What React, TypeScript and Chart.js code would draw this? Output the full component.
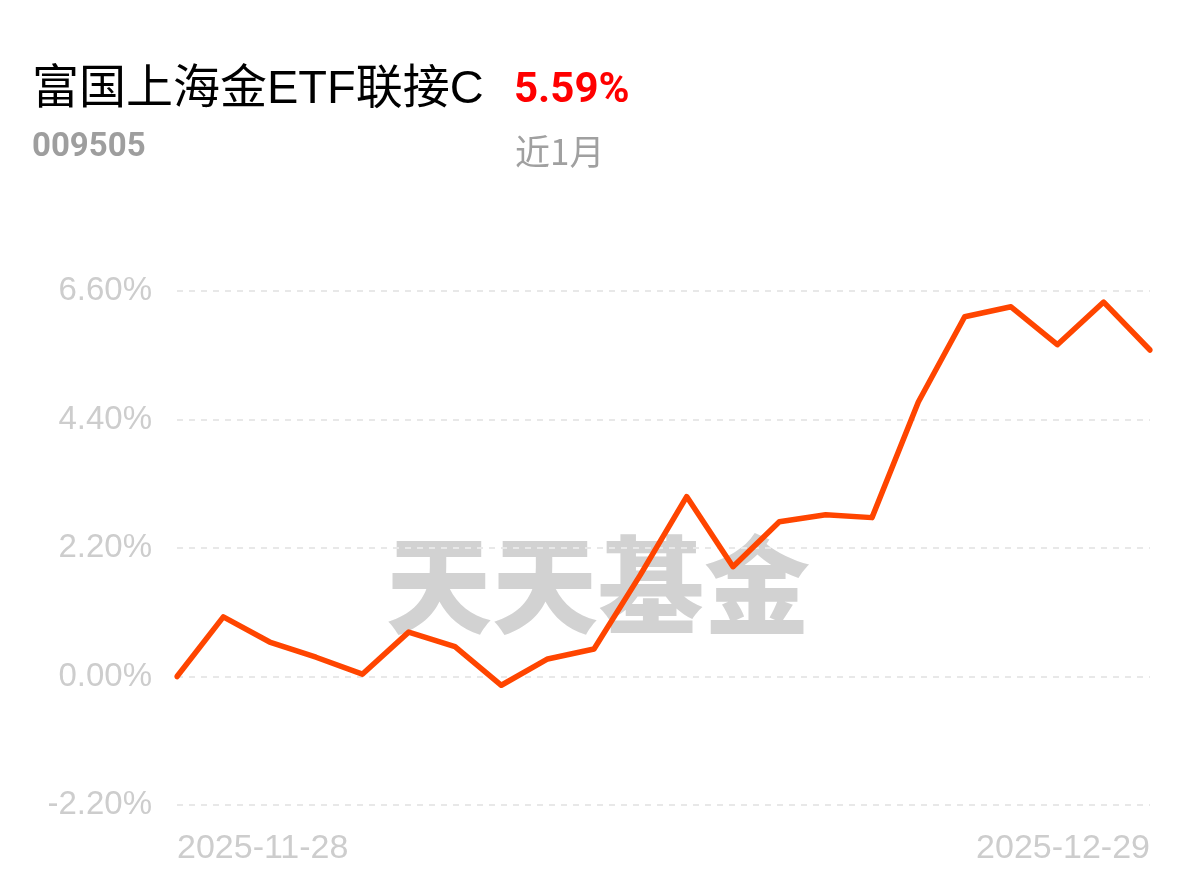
import React, { useEffect, useRef } from "react";
import { Chart, registerables } from "chart.js";

Chart.register(...registerables);

const title = "富国上海金ETF联接C";
const code = "009505";
const changeText = "5.59%";
const periodText = "近1月";
const watermark = "天天基金";

const dates = [
  "2025-11-28", "2025-12-01", "2025-12-02", "2025-12-03", "2025-12-04", "2025-12-05",
  "2025-12-08", "2025-12-09", "2025-12-10", "2025-12-11", "2025-12-12",
  "2025-12-15", "2025-12-16", "2025-12-17", "2025-12-18", "2025-12-19",
  "2025-12-22", "2025-12-23", "2025-12-24", "2025-12-25", "2025-12-26",
  "2025-12-29",
];
const returns = [
  0.0, 1.02, 0.59, 0.33, 0.04, 0.76, 0.51, -0.15, 0.3, 0.47, 1.74,
  3.08, 1.88, 2.65, 2.77, 2.72, 4.7, 6.16, 6.33, 5.68, 6.41, 5.59,
];
const yTicks = [-2.2, 0, 2.2, 4.4, 6.6];

const yTickFont = { family: "'Liberation Sans', Arial, sans-serif", size: 33 };
const xTickFont = { family: "'Liberation Sans', Arial, sans-serif", size: 34 };
const tickColor = "#cdcdcd";

export default function App() {
  const ref = useRef<HTMLCanvasElement | null>(null);

  useEffect(() => {
    if (!ref.current) return;
    const watermarkPlugin = {
      id: "watermark",
      beforeDraw(chart: any) {
        const ctx = chart.ctx;
        ctx.save();
        ctx.font = "900 106px 'Noto Sans CJK SC'";
        ctx.fillStyle = "#d2d2d2";
        ctx.textAlign = "center";
        ctx.textBaseline = "middle";
        ctx.fillText(watermark, 598, 585);
        ctx.restore();
      },
    };
    const chart = new Chart(ref.current, {
      type: "line",
      data: {
        labels: dates,
        datasets: [
          {
            data: returns,
            borderColor: "#ff4500",
            borderWidth: 5.5,
            pointRadius: 0,
            tension: 0,
            fill: false,
            borderJoinStyle: "round",
            borderCapStyle: "round",
          },
        ],
      },
      options: {
        animation: false,
        responsive: false,
        maintainAspectRatio: false,
        events: [],
        layout: { padding: { left: 0, right: 44, top: 291, bottom: 0 } },
        plugins: { legend: { display: false }, tooltip: { enabled: false } },
        scales: {
          x: {
            grid: { display: false, drawTicks: false },
            border: { display: false },
            afterFit(scale: any) {
              scale.height = 76;
            },
            ticks: {
              autoSkip: false,
              maxRotation: 0,
              minRotation: 0,
              align: "inner",
              padding: 23,
              color: tickColor,
              font: xTickFont,
              callback(_v: any, i: number) {
                return i === 0 || i === dates.length - 1 ? dates[i] : "";
              },
            },
          },
          y: {
            min: yTicks[0],
            max: yTicks[yTicks.length - 1],
            afterBuildTicks(scale: any) {
              scale.ticks = yTicks.map((v) => ({ value: v }));
            },
            afterFit(scale: any) {
              scale.width = 177;
            },
            grid: {
              drawTicks: false,
              color: "#e8e8e8",
              lineWidth: 2,
            },
            border: { display: false, dash: [6, 6] },
            ticks: {
              padding: 25,
              color: tickColor,
              font: yTickFont,
              callback(v: any) {
                return Number(v).toFixed(2) + "%";
              },
            },
          },
        },
      },
      plugins: [watermarkPlugin],
    } as any);
    return () => chart.destroy();
  }, []);

  return (
    <div
      style={{
        position: "fixed",
        left: 0,
        top: 0,
        width: 1194,
        height: 881,
        background: "#fff",
        overflow: "hidden",
      }}
    >
      <canvas
        ref={ref}
        width={1194}
        height={881}
        style={{ position: "absolute", left: 0, top: 0, width: 1194, height: 881 }}
      />
      <div
        style={{
          position: "absolute",
          left: 32,
          top: 62,
          fontFamily: "'Liberation Sans', 'Noto Sans CJK SC', sans-serif",
          fontSize: 47,
          lineHeight: "50px",
          color: "#000",
          whiteSpace: "nowrap",
        }}
      >
        {title}
      </div>
      <div
        style={{
          position: "absolute",
          left: 514,
          top: 64,
          fontFamily: "Roboto, sans-serif",
          fontWeight: 700,
          fontSize: 42,
          lineHeight: "48px",
          color: "#ff0000",
          whiteSpace: "nowrap",
        }}
      >
        {changeText}
      </div>
      <div
        style={{
          position: "absolute",
          left: 32,
          top: 126,
          fontFamily: "Roboto, sans-serif",
          fontWeight: 700,
          fontSize: 33,
          lineHeight: "38px",
          color: "#9e9e9e",
          whiteSpace: "nowrap",
        }}
      >
        {code}
      </div>
      <div
        style={{
          position: "absolute",
          left: 515,
          top: 128,
          fontFamily: "'Noto Sans CJK SC', sans-serif",
          fontSize: 35,
          lineHeight: "44px",
          color: "#a0a0a0",
          whiteSpace: "nowrap",
        }}
      >
        {periodText}
      </div>
    </div>
  );
}
